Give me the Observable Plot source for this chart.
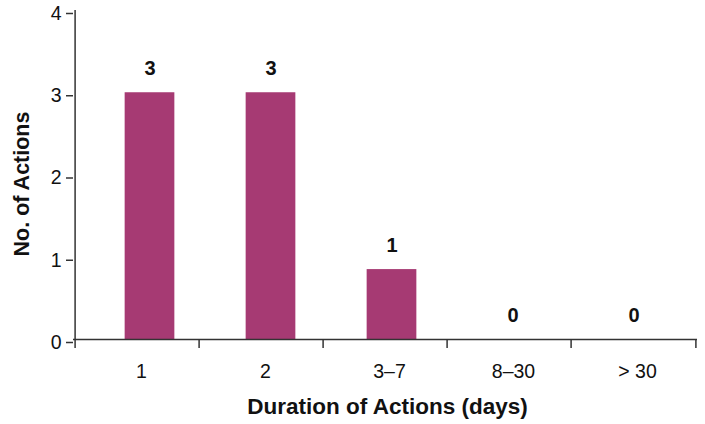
<!DOCTYPE html>
<html><head><meta charset="utf-8">
<script src="https://cdn.jsdelivr.net/npm/d3@7"></script>
<script src="https://cdn.jsdelivr.net/npm/@observablehq/plot@0.6"></script>
<style>
body{margin:0;background:#fff;}
#chart{position:relative;width:705px;height:424px;}
#chart svg{position:absolute;left:0;top:0;}
</style>
</head><body><div id="chart"></div>
<script>
const categories = ["1", "2", "3–7", "8–30", "> 30"];
const values = [3, 3, 0.85, 0, 0];
const valueLabels = ["3", "3", "1", "0", "0"];
const yTicks = [0, 1, 2, 3, 4];
const xTitle = "Duration of Actions (days)";
const yTitle = "No. of Actions";

const data = categories.map((c, i) => ({category: c, value: values[i], label: valueLabels[i]}));
const W = 705, H = 424, mL = 73, mR = 8, mT = 10, mB = 85;
const bw = (W - mL - mR) / categories.length;
const barStep = 121.3, firstBar = 149, barW = 50;
const font = "'Liberation Sans', Arial, Helvetica, sans-serif";
const ink = "#333";
const common = {width: W, height: H, marginLeft: mL, marginRight: mR, marginTop: mT, marginBottom: mB,
  style: {fontFamily: font, fontSize: "19px", color: "#111", background: "transparent", overflow: "visible"}};

// bars and value labels
const bars = Plot.plot({
  ...common,
  x: {type: "band", domain: categories, padding: 0, axis: null,
      range: [firstBar - barStep / 2, firstBar - barStep / 2 + barStep * categories.length]},
  y: {domain: [0, 4], axis: null},
  marks: [
    Plot.barY(data, {x: "category", y: "value", fill: "#a63a73",
      insetLeft: (barStep - barW) / 2, insetRight: (barStep - barW) / 2}),
    Plot.text(data, {x: "category", y: "value", text: "label", dy: -24,
      fontWeight: "bold", fontSize: 20, fill: "#111"})
  ]
});

// axes and titles
const axes = Plot.plot({
  ...common,
  x: {type: "band", domain: categories, padding: 0, axis: null},
  y: {domain: [0, 4], axis: null},
  marks: [
    Plot.ruleY([0], {stroke: ink, strokeWidth: 1.5}),
    Plot.ruleX([categories[0]], {x: d => d, y1: 0, y2: 4, dx: -bw / 2, stroke: ink, strokeWidth: 1.5}),
    Plot.ruleX(categories, {x: d => d, y1: 0, y2: -0.11, dx: -bw / 2, stroke: ink, strokeWidth: 1.5}),
    Plot.ruleX([categories[categories.length - 1]], {x: d => d, y1: 0, y2: -0.11, dx: bw / 2, stroke: ink, strokeWidth: 1.5}),
    Plot.axisY({ticks: yTicks, tickFormat: d => String(d), tickSize: 7, tickPadding: 5, fontSize: 19.5,
      label: null, stroke: ink, strokeWidth: 1.5, dy: 3}),
    Plot.axisX({tickSize: 0, tickPadding: 25, fontSize: 19.5, label: null, dx: 4}),
    Plot.text([yTitle], {frameAnchor: "left", textAnchor: "middle", lineAnchor: "middle", rotate: -90,
      dx: -51, dy: 9, fontWeight: "bold", fontSize: 21.5, fill: "#111"}),
    Plot.text([xTitle], {frameAnchor: "bottom", textAnchor: "middle", lineAnchor: "middle",
      dx: 2, dy: 67, fontWeight: "bold", fontSize: 22.5, fill: "#111"})
  ]
});
const el = document.getElementById("chart");
el.append(bars);
el.append(axes);
</script>
</body></html>
